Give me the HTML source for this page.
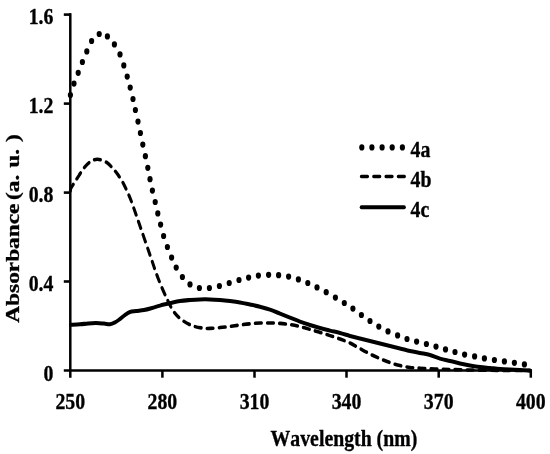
<!DOCTYPE html>
<html><head><meta charset="utf-8"><title>UV-Vis absorbance</title>
<style>
html,body{margin:0;padding:0;background:#fff;}
svg{display:block;}
text{font-kerning:none;stroke:#000;stroke-width:0.3px;font-family:"Liberation Serif",serif;font-weight:bold;fill:#000;}
</style></head><body>
<svg width="550" height="454" viewBox="0 0 550 454">
<rect width="550" height="454" fill="#fff"/>

<g stroke="#000" fill="none">
<line x1="70.3" y1="13.3" x2="70.3" y2="377.7" stroke-width="2.5"/>
<line x1="63.8" y1="370.5" x2="532" y2="370.5" stroke-width="2.7"/>
<line x1="63.8" y1="14.6" x2="71" y2="14.6" stroke-width="2.6"/>
<line x1="63.8" y1="103.6" x2="71" y2="103.6" stroke-width="2.6"/>
<line x1="63.8" y1="192.6" x2="71" y2="192.6" stroke-width="2.6"/>
<line x1="63.8" y1="281.5" x2="71" y2="281.5" stroke-width="2.6"/>
<line x1="162.4" y1="370" x2="162.4" y2="377.7" stroke-width="2.5"/>
<line x1="254.5" y1="370" x2="254.5" y2="377.7" stroke-width="2.5"/>
<line x1="346.5" y1="370" x2="346.5" y2="377.7" stroke-width="2.5"/>
<line x1="438.7" y1="370" x2="438.7" y2="377.7" stroke-width="2.5"/>
<line x1="530.8" y1="370" x2="530.8" y2="377.7" stroke-width="2.5"/>
</g>
<g transform="scale(1,1.19)">
<path d="M70.60 272.94C72.17 272.87 77.10 272.70 80.00 272.52C82.90 272.34 85.33 272.02 88.00 271.85C90.67 271.68 93.33 271.50 96.00 271.51C98.67 271.53 101.67 271.78 104.00 271.93C106.33 272.09 108.17 272.61 110.00 272.44C111.83 272.27 113.33 271.65 115.00 270.92C116.67 270.20 118.33 269.10 120.00 268.07C121.67 267.03 123.33 265.69 125.00 264.71C126.67 263.73 128.17 262.75 130.00 262.18C131.83 261.62 133.67 261.62 136.00 261.34C138.33 261.06 141.33 260.92 144.00 260.50C146.67 260.08 149.33 259.44 152.00 258.82C154.67 258.21 157.00 257.48 160.00 256.81C163.00 256.13 166.67 255.43 170.00 254.79C173.33 254.15 176.67 253.39 180.00 252.94C183.33 252.49 186.67 252.32 190.00 252.10C193.33 251.88 196.67 251.68 200.00 251.60C203.33 251.51 206.67 251.51 210.00 251.60C213.33 251.68 216.67 251.88 220.00 252.10C223.33 252.32 226.67 252.61 230.00 252.94C233.33 253.28 236.67 253.63 240.00 254.12C243.33 254.61 246.67 255.27 250.00 255.88C253.33 256.50 256.67 257.10 260.00 257.82C263.33 258.53 266.67 259.22 270.00 260.17C273.33 261.12 276.67 262.41 280.00 263.53C283.33 264.65 286.67 265.77 290.00 266.89C293.33 268.01 296.67 269.22 300.00 270.25C303.33 271.29 306.67 272.21 310.00 273.11C313.33 274.01 316.67 274.85 320.00 275.63C323.33 276.41 326.67 277.11 330.00 277.82C333.33 278.52 336.67 279.08 340.00 279.83C343.33 280.59 346.67 281.57 350.00 282.35C353.33 283.14 356.67 283.84 360.00 284.54C363.33 285.24 366.67 285.85 370.00 286.55C373.33 287.25 376.67 288.04 380.00 288.74C383.33 289.44 386.67 290.08 390.00 290.76C393.33 291.43 396.67 292.07 400.00 292.77C403.33 293.47 406.67 294.31 410.00 294.96C413.33 295.60 416.67 296.08 420.00 296.64C423.33 297.20 426.67 297.54 430.00 298.32C433.33 299.10 436.67 300.50 440.00 301.34C443.33 302.18 446.67 302.69 450.00 303.36C453.33 304.03 456.67 304.76 460.00 305.38C463.33 305.99 466.67 306.55 470.00 307.06C473.33 307.56 476.67 308.04 480.00 308.40C483.33 308.77 486.67 308.96 490.00 309.24C493.33 309.52 496.67 309.86 500.00 310.08C503.33 310.31 506.67 310.45 510.00 310.59C513.33 310.73 516.67 310.81 520.00 310.92C523.33 311.04 528.33 311.20 530.00 311.26" fill="none" stroke="#000" stroke-width="3.4" stroke-linecap="round" stroke-linejoin="round"/>
<path d="M70.60 161.60C70.62 161.11 70.05 160.03 70.70 158.66C71.35 157.28 73.12 155.22 74.50 153.36C75.88 151.50 77.40 149.54 79.00 147.48C80.60 145.42 82.30 142.89 84.10 141.01C85.90 139.13 87.57 137.42 89.80 136.22C92.03 135.01 94.63 133.70 97.50 133.78C100.37 133.87 104.35 135.34 107.00 136.72C109.65 138.11 111.48 140.31 113.40 142.10C115.32 143.89 116.82 145.43 118.50 147.48C120.18 149.52 122.02 152.06 123.50 154.37C124.98 156.68 126.12 158.94 127.40 161.34C128.68 163.75 129.10 164.06 131.20 168.82C133.30 173.59 136.87 182.34 140.00 189.92C143.13 197.49 147.00 207.00 150.00 214.29C153.00 221.57 155.17 227.45 158.00 233.61C160.83 239.78 164.33 246.50 167.00 251.26C169.67 256.02 171.50 259.24 174.00 262.18C176.50 265.13 179.00 267.00 182.00 268.91C185.00 270.81 188.67 272.49 192.00 273.61C195.33 274.73 199.00 275.24 202.00 275.63C205.00 276.02 207.00 276.02 210.00 275.97C213.00 275.91 216.67 275.57 220.00 275.29C223.33 275.01 226.67 274.65 230.00 274.29C233.33 273.92 236.67 273.47 240.00 273.11C243.33 272.75 246.67 272.38 250.00 272.10C253.33 271.82 256.67 271.54 260.00 271.43C263.33 271.32 266.67 271.37 270.00 271.43C273.33 271.48 276.67 271.54 280.00 271.76C283.33 271.99 286.67 272.32 290.00 272.77C293.33 273.22 296.67 273.78 300.00 274.45C303.33 275.13 306.67 275.99 310.00 276.81C313.33 277.62 316.67 278.46 320.00 279.33C323.33 280.20 326.67 281.09 330.00 282.02C333.33 282.94 336.67 283.84 340.00 284.87C343.33 285.91 346.67 286.89 350.00 288.24C353.33 289.58 356.67 291.40 360.00 292.94C363.33 294.48 366.67 296.08 370.00 297.48C373.33 298.88 376.67 300.14 380.00 301.34C383.33 302.55 386.67 303.73 390.00 304.71C393.33 305.69 396.67 306.55 400.00 307.23C403.33 307.90 406.67 308.38 410.00 308.74C413.33 309.10 416.67 309.22 420.00 309.41C423.33 309.61 426.67 309.78 430.00 309.92C433.33 310.06 436.67 310.15 440.00 310.25C443.33 310.35 445.00 310.39 450.00 310.50C455.00 310.62 461.67 310.80 470.00 310.92C478.33 311.05 490.00 311.18 500.00 311.26C510.00 311.34 525.00 311.40 530.00 311.43" fill="none" stroke="#000" stroke-width="3.0" stroke-linecap="round" stroke-dasharray="6.2 5.9" stroke-dashoffset="-1.3"/>
<g fill="#000">
<circle cx="70.4" cy="79.83" r="2.6"/>
<circle cx="74.0" cy="70.25" r="2.6"/>
<circle cx="78.2" cy="61.18" r="2.6"/>
<circle cx="82.4" cy="52.10" r="2.6"/>
<circle cx="86.8" cy="43.19" r="2.6"/>
<circle cx="91.6" cy="34.45" r="2.6"/>
<circle cx="99.2" cy="28.57" r="2.6"/>
<circle cx="107.4" cy="30.59" r="2.6"/>
<circle cx="114.4" cy="37.31" r="2.6"/>
<circle cx="120.0" cy="45.71" r="2.6"/>
<circle cx="123.8" cy="54.96" r="2.6"/>
<circle cx="127.2" cy="64.37" r="2.6"/>
<circle cx="130.2" cy="73.61" r="2.6"/>
<circle cx="133.0" cy="83.19" r="2.6"/>
<circle cx="135.4" cy="92.44" r="2.6"/>
<circle cx="138.0" cy="102.18" r="2.6"/>
<circle cx="140.4" cy="111.76" r="2.6"/>
<circle cx="142.8" cy="121.51" r="2.6"/>
<circle cx="145.4" cy="131.26" r="2.6"/>
<circle cx="147.8" cy="141.01" r="2.6"/>
<circle cx="150.0" cy="150.59" r="2.6"/>
<circle cx="152.4" cy="160.17" r="2.6"/>
<circle cx="155.2" cy="169.75" r="2.6"/>
<circle cx="157.8" cy="179.33" r="2.6"/>
<circle cx="160.6" cy="188.74" r="2.6"/>
<circle cx="163.6" cy="198.32" r="2.6"/>
<circle cx="167.4" cy="207.56" r="2.6"/>
<circle cx="171.6" cy="216.47" r="2.6"/>
<circle cx="176.2" cy="224.87" r="2.6"/>
<circle cx="182.4" cy="232.77" r="2.6"/>
<circle cx="190.0" cy="238.99" r="2.6"/>
<circle cx="199.4" cy="242.02" r="2.6"/>
<circle cx="209.4" cy="242.02" r="2.6"/>
<circle cx="219.4" cy="240.34" r="2.6"/>
<circle cx="229.2" cy="237.82" r="2.6"/>
<circle cx="239.0" cy="235.29" r="2.6"/>
<circle cx="248.6" cy="233.28" r="2.6"/>
<circle cx="258.4" cy="231.60" r="2.6"/>
<circle cx="268.6" cy="230.92" r="2.6"/>
<circle cx="278.6" cy="231.26" r="2.6"/>
<circle cx="288.6" cy="232.44" r="2.6"/>
<circle cx="298.4" cy="234.79" r="2.6"/>
<circle cx="307.8" cy="237.82" r="2.6"/>
<circle cx="317.0" cy="241.51" r="2.6"/>
<circle cx="326.2" cy="245.55" r="2.6"/>
<circle cx="335.4" cy="250.08" r="2.6"/>
<circle cx="344.3" cy="254.62" r="2.6"/>
<circle cx="352.9" cy="259.33" r="2.6"/>
<circle cx="361.4" cy="264.71" r="2.6"/>
<circle cx="370.0" cy="269.75" r="2.6"/>
<circle cx="378.8" cy="274.45" r="2.6"/>
<circle cx="388.0" cy="278.49" r="2.6"/>
<circle cx="397.6" cy="281.85" r="2.6"/>
<circle cx="407.0" cy="284.87" r="2.6"/>
<circle cx="416.6" cy="287.06" r="2.6"/>
<circle cx="426.4" cy="289.08" r="2.6"/>
<circle cx="436.0" cy="291.26" r="2.6"/>
<circle cx="445.5" cy="293.61" r="2.6"/>
<circle cx="455.0" cy="295.80" r="2.6"/>
<circle cx="464.6" cy="297.98" r="2.6"/>
<circle cx="474.6" cy="299.50" r="2.6"/>
<circle cx="484.4" cy="301.18" r="2.6"/>
<circle cx="494.4" cy="302.52" r="2.6"/>
<circle cx="504.4" cy="303.70" r="2.6"/>
<circle cx="514.4" cy="304.87" r="2.6"/>
<circle cx="524.4" cy="306.22" r="2.6"/>
</g>
<circle cx="361.8" cy="123.87" r="2.6"/>
<circle cx="371.9" cy="123.87" r="2.6"/>
<circle cx="382.1" cy="123.87" r="2.6"/>
<circle cx="392.2" cy="123.87" r="2.6"/>
<circle cx="402.4" cy="123.87" r="2.6"/>
<path d="M361.3 148.40H405" fill="none" stroke="#000" stroke-width="2.9" stroke-linecap="round" stroke-dasharray="6.3 6.0"/>
<path d="M361.4 174.12H404.2" fill="none" stroke="#000" stroke-width="3.3" stroke-linecap="round"/>
<text transform="translate(410.5,131.93) scale(1,1.02)" font-size="19.8" text-anchor="start">4a</text>
<text transform="translate(410.5,157.39) scale(1,1.02)" font-size="19.8" text-anchor="start">4b</text>
<text transform="translate(410.5,182.69) scale(1,1.02)" font-size="19.8" text-anchor="start">4c</text>
<text transform="translate(53.4,20.25) scale(1,1.02)" font-size="19.8" text-anchor="end">1.6</text>
<text transform="translate(53.4,95.04) scale(1,1.02)" font-size="19.8" text-anchor="end">1.2</text>
<text transform="translate(53.4,169.83) scale(1,1.02)" font-size="19.8" text-anchor="end">0.8</text>
<text transform="translate(53.4,244.54) scale(1,1.02)" font-size="19.8" text-anchor="end">0.4</text>
<text transform="translate(53.4,320.42) scale(1,1.02)" font-size="19.8" text-anchor="end">0</text>
<text transform="translate(70.3,343.36) scale(1,1.02)" font-size="19.8" text-anchor="middle">250</text>
<text transform="translate(162.4,343.36) scale(1,1.02)" font-size="19.8" text-anchor="middle">280</text>
<text transform="translate(254.5,343.36) scale(1,1.02)" font-size="19.8" text-anchor="middle">310</text>
<text transform="translate(346.5,343.36) scale(1,1.02)" font-size="19.8" text-anchor="middle">340</text>
<text transform="translate(438.7,343.36) scale(1,1.02)" font-size="19.8" text-anchor="middle">370</text>
<text transform="translate(530.8,343.36) scale(1,1.02)" font-size="19.8" text-anchor="middle">400</text>
<text transform="translate(343.9,374.71) scale(1,1.02)" font-size="19.8" text-anchor="middle">Wavelength (nm)</text>
<text transform="translate(19.0,192.02) rotate(-90)" font-size="19.602" text-anchor="middle">Absorbance<tspan dx="-1.9"> (a.</tspan><tspan dx="1.0"> u.</tspan><tspan dx="0.9"> )</tspan></text>
</g>
</svg></body></html>
